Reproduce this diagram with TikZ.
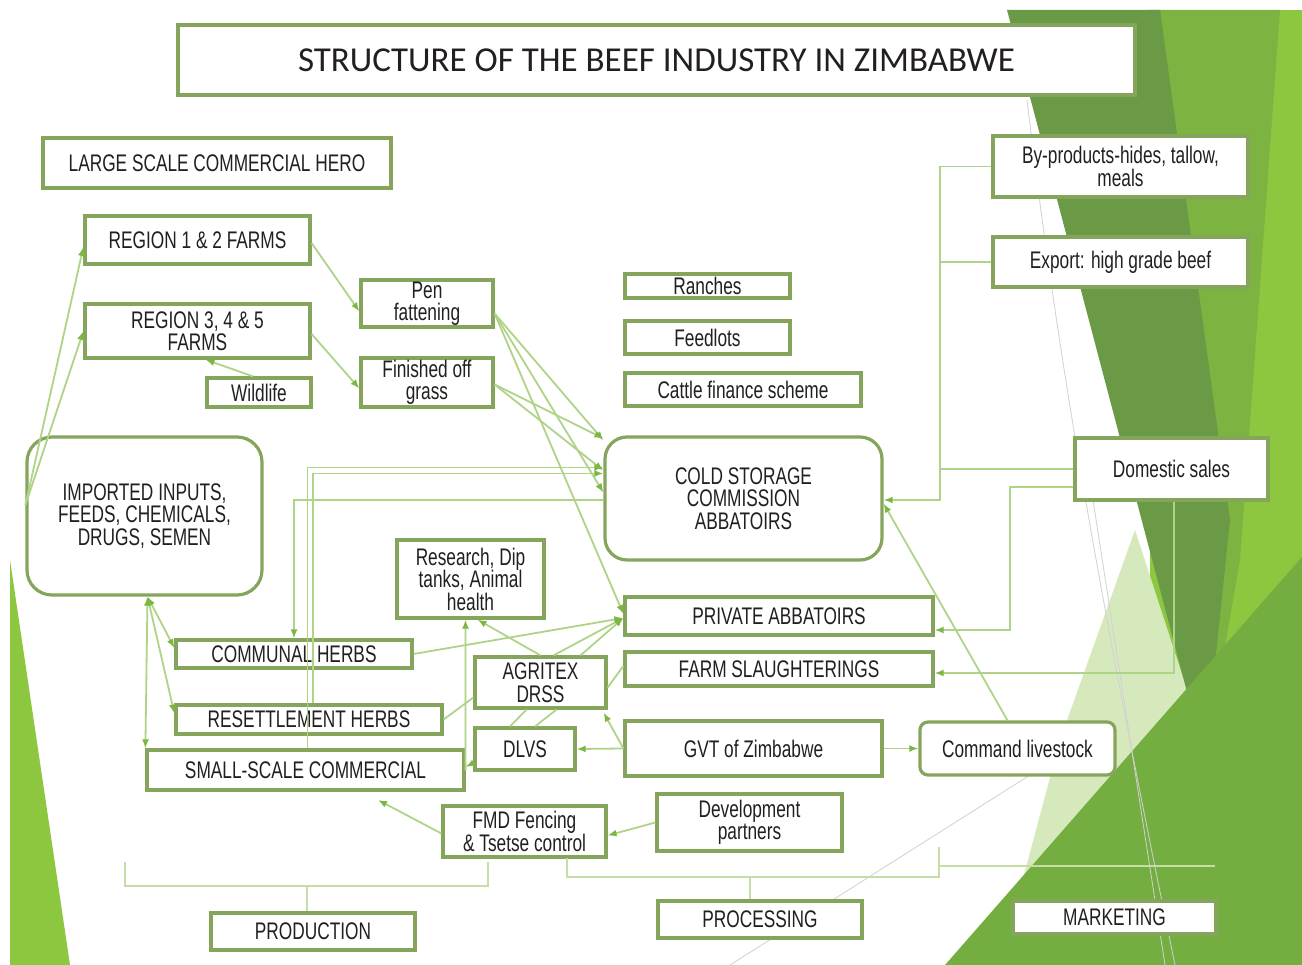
\documentclass[tikz,border=0pt]{standalone}
\usepackage{fontspec}
\setmainfont{Liberation Sans}[FakeStretch=0.72]
\newfontfamily\titlefont{Carlito}
\usetikzlibrary{arrows.meta,calc}
\definecolor{bgbright}{HTML}{8DC63F}
\definecolor{bgmed}{HTML}{7DB341}
\definecolor{bgdark}{HTML}{6A9A46}
\definecolor{bgpale}{HTML}{D6E9BD}
\definecolor{bgtri}{HTML}{74AE41}
\definecolor{boxline}{HTML}{86A55C}
\definecolor{conn}{HTML}{AFD487}
\definecolor{tipc}{HTML}{7CB744}
\definecolor{brk}{HTML}{C6DEA6}
\definecolor{txt}{HTML}{231F20}
\newcommand\bodyfs{\fontsize{24}{22.5}\selectfont}
\tikzset{
  box/.style={draw=boxline, line width=3.2pt, fill=white, inner sep=0pt, align=center, font=\bodyfs, text=txt},
  rbox/.style={box, rounded corners=#1},
  ln/.style={draw=conn, line width=1.8pt},
  arr/.style={ln, -{Latex[length=9pt,width=7pt,color=tipc]}},
  barr/.style={ln, {Latex[length=9pt,width=7pt,color=tipc]}-{Latex[length=9pt,width=7pt,color=tipc]}},
  brkline/.style={draw=brk, line width=2pt},
  deco/.style={draw=black!18, line width=0.8pt}
}
\begin{document}
\begin{tikzpicture}[x=1pt,y=-1pt]
\useasboundingbox (0,0) rectangle (1302,965);
\fill[white] (0,0) rectangle (1302,965);
% background decoration
\fill[bgbright] (1150,10) -- (1302,10) -- (1302,965) -- (1150,965) -- cycle;
\fill[bgmed] (1150,10) -- (1280,10) -- (1240,560) -- (1205,760) -- cycle;
\fill[bgpale] (1135,530) -- (1210,760) -- (1000,965) -- (1060,740) -- cycle;
\fill[bgdark] (1007,10) -- (1160,10) -- (1230,520) -- (1205,760) -- cycle;
\fill[bgtri] (945,965) -- (1302,557) -- (1302,965) -- cycle;
\fill[bgbright] (10,560) -- (10,965) -- (70,965) -- cycle;
\draw[deco] (1027,100) .. controls (1060,380) and (1110,650) .. (1175,965);
\draw[deco] (1093,500) -- (1165,965);
\draw[deco] (1030,775) -- (730,965);

% title
\node[box, minimum width=957pt, minimum height=70pt, font=\titlefont\fontsize{35}{40}\selectfont] (title) at (656.5,60) {STRUCTURE OF THE BEEF INDUSTRY IN ZIMBABWE};

% nodes
\node[box, minimum width=348pt, minimum height=50pt] (lsch) at (217,163) {LARGE SCALE COMMERCIAL HERO};
\node[box, minimum width=225pt, minimum height=48pt] (r12) at (197.5,240) {REGION 1 \& 2 FARMS};
\node[box, minimum width=225pt, minimum height=54pt] (r345) at (197.5,331) {REGION 3, 4 \& 5\\FARMS};
\node[box, minimum width=104pt, minimum height=29pt] (wild) at (259,392.5) {Wildlife};
\node[box, minimum width=132pt, minimum height=47pt] (pen) at (427,303.5) {Pen\\fattening};
\node[box, minimum width=132pt, minimum height=49pt] (fin) at (427,382.5) {Finished off\\grass};
\node[box, minimum width=165pt, minimum height=24pt] (ranch) at (707.5,286) {Ranches};
\node[box, minimum width=165pt, minimum height=33pt] (feed) at (707.5,337.5) {Feedlots};
\node[box, minimum width=236pt, minimum height=33pt] (cattle) at (743,389.5) {Cattle finance scheme};
\node[box, minimum width=255pt, minimum height=61pt] (byp) at (1120.5,166.5) {By-products-hides, tallow,\\meals};
\node[box, minimum width=255pt, minimum height=50pt] (exp) at (1120.5,262) {Export: high grade beef};
\node[rbox=25pt, minimum width=235pt, minimum height=158pt] (imp) at (144.5,516) {IMPORTED INPUTS,\\FEEDS, CHEMICALS,\\DRUGS, SEMEN};
\node[rbox=22pt, minimum width=277pt, minimum height=123pt] (cs) at (743.5,498.5) {COLD STORAGE\\COMMISSION\\ABBATOIRS};
\node[box, minimum width=193pt, minimum height=62pt] (dom) at (1171.5,469) {Domestic sales};
\node[box, minimum width=147pt, minimum height=78pt] (rsch) at (470.5,579) {Research, Dip\\tanks, Animal\\health};
\node[box, minimum width=308pt, minimum height=38pt] (priv) at (779,616) {PRIVATE ABBATOIRS};
\node[box, minimum width=236pt, minimum height=28pt] (comm) at (294,654) {COMMUNAL HERBS};
\node[box, minimum width=131pt, minimum height=51pt] (agr) at (540.5,682.5) {AGRITEX\\DRSS};
\node[box, minimum width=308pt, minimum height=34pt] (farm) at (779,669) {FARM SLAUGHTERINGS};
\node[box, minimum width=266pt, minimum height=29pt] (res) at (309,719.5) {RESETTLEMENT HERBS};
\node[box, minimum width=100pt, minimum height=42pt] (dlvs) at (525,749) {DLVS};
\node[box, minimum width=257pt, minimum height=55pt] (gvt) at (753.5,748.5) {GVT of Zimbabwe};
\node[rbox=8pt, minimum width=195pt, minimum height=53pt] (cmd) at (1017.5,748.5) {Command livestock};
\node[box, minimum width=317pt, minimum height=40pt] (small) at (305.5,770) {SMALL-SCALE COMMERCIAL};
\node[box, minimum width=163pt, minimum height=51pt] (fmd) at (524.5,831.5) {FMD Fencing\\\& Tsetse control};
\node[box, minimum width=185pt, minimum height=57pt] (dev) at (749.5,822.5) {Development\\partners};
\node[box, minimum width=204pt, minimum height=37pt] (prod) at (313,931.5) {PRODUCTION};
\node[box, minimum width=204pt, minimum height=37pt] (proc) at (760,919.5) {PROCESSING};
\node[box, minimum width=203pt, minimum height=33pt] (mkt) at (1114.5,917.5) {MARKETING};

% helper coordinates
\coordinate (bus) at (940,500);
\coordinate (dp) at (1010,630);
\coordinate (df) at (1174,673);
\coordinate (fs) at (378,800);

% production side connectors
\draw[arr] ([yshift=-3pt]r12.east) -- ([yshift=-8pt]pen.west);
\draw[arr] ([yshift=-3pt]r345.east) -- ([yshift=-6pt]fin.west);
\draw[arr] ([xshift=-6pt]wild.north) -- ([xshift=8pt]r345.south);
\draw[arr] ([yshift=11pt]imp.west) -- ([yshift=-7pt]r12.west);
\draw[arr] ([yshift=11pt]imp.west) -- (r345.west);
\draw[arr] ([yshift=-10pt]pen.east) -- ([yshift=-5pt]cs.north west);
\draw[arr] ([yshift=-10pt]pen.east) -- ([yshift=6pt]cs.west);
\draw[arr] ([yshift=-10pt]pen.east) -- ([yshift=2pt]priv.west);
\draw[arr] ([yshift=-2pt]fin.east) -- ([yshift=-3pt]cs.north west);
\draw[arr] ([yshift=-2pt]fin.east) -- ([yshift=28pt]cs.west);
\draw[arr] ([xshift=2pt]small.north) |- ([yshift=31pt]cs.west);
\draw[arr] ([xshift=4pt]res.north) |- ([yshift=25pt]cs.west);
\draw[arr] ([yshift=-1.5pt]cs.west) -| (comm.north);
\draw[barr] ([xshift=3pt]imp.south) -- ([yshift=6pt]comm.west);
\draw[barr] ([xshift=3pt]imp.south) -- ([yshift=6pt]res.west);
\draw[barr] ([xshift=3pt]imp.south) -- (small.north west);

% middle
\draw[arr] (agr.north) -- ([xshift=7pt]rsch.south);
\draw[arr] (small.east) -- ([xshift=-5pt]rsch.south);
\draw[arr] ([yshift=-14pt]dlvs.west) -- ([yshift=3pt]small.east);
\draw[arr] (comm.east) -- ([yshift=-2pt]priv.west);
\draw[arr] ([xshift=13pt]agr.north) -- ([yshift=-2pt]priv.west);
\draw[arr] ([xshift=40pt]agr.north) -- ([yshift=-2pt]priv.west);
\draw[ln] (res.east) -- ([yshift=-15pt]agr.west);
\draw[ln] ([xshift=-15pt]dlvs.north) -- ([xshift=-14pt]agr.south);
\draw[ln] ([xshift=10pt]dlvs.north) -- ([xshift=16pt]agr.south);
\draw[ln] ([yshift=-5pt]agr.east) -- ([yshift=3pt]farm.west);
\draw[arr] (gvt.west) -- ([xshift=-4pt,yshift=-3pt]agr.south east);
\draw[arr] (gvt.west) -- (dlvs.east);
\draw[arr] (gvt.east) -- (cmd.west);
\draw[arr] ([xshift=-10pt]cmd.north) -- ([yshift=-5pt]cs.east);
\draw[arr] (dev.west) -- ([yshift=-4pt]fmd.east);
\draw[arr] ([yshift=-2pt]fmd.west) -- (fs);

% marketing side
\draw[arr] (byp.west) -| (bus) -- (bus -| cs.east);
\draw[ln] (exp.west) -- (exp.west -| bus);
\draw[ln] (dom.west) -- (dom.west -| bus);
\draw[arr] ([yshift=-18pt]dom.west) -| (dp) -- (dp -| priv.east);
\draw[arr] (dom.south -| df) -- (df) -- (df -| farm.east);

% brackets
\draw[brkline] (125,862) -- (125,886) -- (488,886) -- (488,862);
\draw[brkline] (307,886) -- (prod.north -| 307,0);
\draw[brkline] (567,858) -- (567,877) -- (939,877) -- (939,847);
\draw[brkline] (750,877) -- (proc.north -| 750,0);
\draw[brkline] (939,866) -- (1215,866);
\end{tikzpicture}
\end{document}
